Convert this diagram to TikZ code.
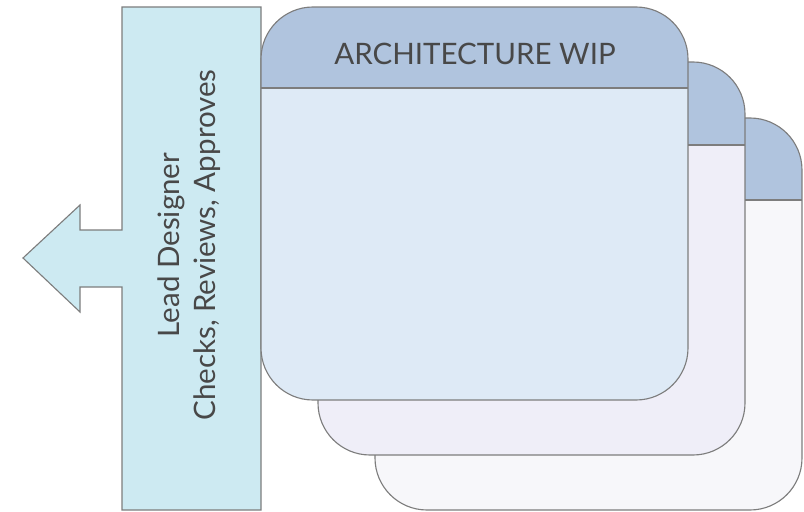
\documentclass[tikz,border=0pt]{standalone}
\usepackage{fontspec}
\setmainfont{Lato}
\definecolor{edgegray}{RGB}{125,125,125}
\definecolor{arrowfill}{RGB}{205,234,242}
\definecolor{headfill}{RGB}{176,196,222}
\definecolor{frontfill}{RGB}{222,234,246}
\definecolor{midfill}{RGB}{239,238,248}
\definecolor{backfill}{RGB}{247,247,250}
\definecolor{labelgray}{RGB}{72,72,72}
\tikzset{
    edge/.style={draw=edgegray, line width=0.8pt},
    cardshape/.style={rounded corners=1.3cm},
    label/.style={text=labelgray, font=\fontsize{21}{25.6}\selectfont}
}
\begin{document}
\begin{tikzpicture}[x=0.025cm, y=-0.025cm]
        \useasboundingbox (0,0) rectangle (804,512);

        % lead designer arrow
        \draw[edge, fill=arrowfill] (261,7) -- (122,7) -- (122,230) -- (80,230) -- (80,205)
            -- (23,258) -- (80,312) -- (80,287) -- (122,287) -- (122,510) -- (261,510) -- cycle;
        \node[label, rotate=90, align=center] (lead) at (189,245) {Lead Designer\\Checks, Reviews, Approves};

        % back card
        \begin{scope}[shift={(375,118)}]
            \begin{scope}
                \clip[cardshape] (0,0) rectangle (427,392);
                \fill[backfill] (0,0) rectangle (427,392);
                \fill[headfill] (0,0) rectangle (427,82);
            \end{scope}
            \draw[edge, cardshape] (0,0) rectangle (427,392);
            \draw[edge] (0,82) -- (427,82);
        \end{scope}

        % middle card
        \begin{scope}[shift={(318,62)}]
            \begin{scope}
                \clip[cardshape] (0,0) rectangle (427,393);
                \fill[midfill] (0,0) rectangle (427,393);
                \fill[headfill] (0,0) rectangle (427,83);
            \end{scope}
            \draw[edge, cardshape] (0,0) rectangle (427,393);
            \draw[edge] (0,83) -- (427,83);
        \end{scope}

        % front card
        \begin{scope}[shift={(261,7)}]
            \begin{scope}
                \clip[cardshape] (0,0) rectangle (427,393);
                \fill[frontfill] (0,0) rectangle (427,393);
                \fill[headfill] (0,0) rectangle (427,81);
            \end{scope}
            \draw[edge, cardshape] (0,0) rectangle (427,393);
            \draw[edge] (0,81) -- (427,81);

            \node[label] (title) at (214,47) {ARCHITECTURE WIP};
        \end{scope}
    \end{tikzpicture}
\end{document}
